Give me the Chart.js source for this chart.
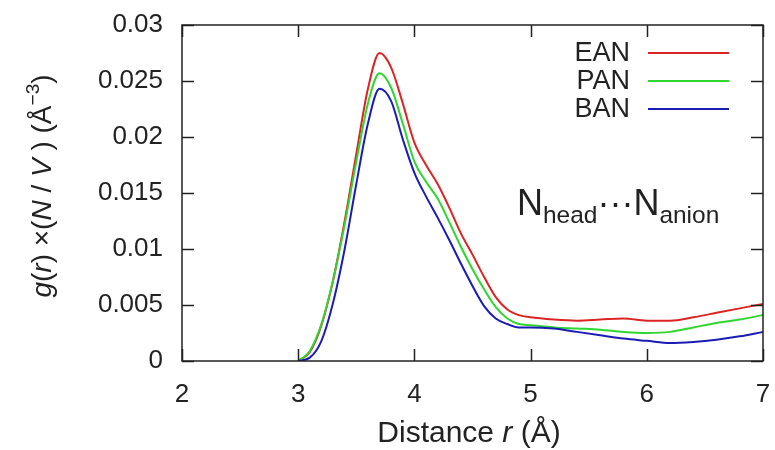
<!DOCTYPE html>
<html>
<head>
<meta charset="utf-8">
<script src="https://cdn.jsdelivr.net/npm/chart.js@4.4.0/dist/chart.umd.min.js"></script>
<style>
  html, body { margin: 0; padding: 0; background: #fff; }
  #wrap { width: 775px; height: 450px; }
</style>
</head>
<body>
<div id="wrap"><canvas id="rdf" width="775" height="450"></canvas></div>
<script>
// distances r (Å) and g(r)*(N/V)
const rValues = [3.0, 3.1, 3.2, 3.3, 3.4, 3.5, 3.6, 3.7, 3.8, 3.9, 4.0, 4.1, 4.2, 4.3, 4.4, 4.5,
  4.6, 4.7, 4.8, 4.9, 5.0, 5.2, 5.4, 5.6, 5.8, 6.0, 6.2, 6.4, 6.6, 6.8, 7.0];
const eanValues = [0, 0.0008, 0.0032, 0.0072, 0.0125, 0.0185, 0.0243, 0.0275, 0.0262, 0.0230, 0.0195,
  0.0175, 0.0158, 0.0137, 0.0114, 0.0095, 0.0075, 0.0057, 0.0046, 0.0041, 0.0039, 0.0037, 0.0036,
  0.0037, 0.0038, 0.0036, 0.0036, 0.0039, 0.0043, 0.0047, 0.0051];
const panValues = [0, 0.0009, 0.0033, 0.0072, 0.0122, 0.0178, 0.0230, 0.0257, 0.0244, 0.0212, 0.0178,
  0.0160, 0.0145, 0.0124, 0.0102, 0.0082, 0.0064, 0.0048, 0.0038, 0.0033, 0.0032, 0.0030, 0.0029,
  0.0028, 0.0026, 0.0025, 0.0026, 0.0030, 0.0034, 0.0037, 0.0041];
const banValues = [0, 0.0003, 0.0018, 0.0052, 0.0100, 0.0158, 0.0212, 0.0243, 0.0232, 0.0198, 0.0168,
  0.0147, 0.0128, 0.0108, 0.0087, 0.0067, 0.0049, 0.0038, 0.0033, 0.0030, 0.0030, 0.0029, 0.0026,
  0.0023, 0.0020, 0.0018, 0.0016, 0.0017, 0.0019, 0.0022, 0.0026];
const seriesNames = ['EAN', 'PAN', 'BAN'];
const seriesColors = ['#dc2424', '#2fd62f', '#1c1cb4'];

const xTicks = [2, 3, 4, 5, 6, 7];
const yTicks = [0, 0.005, 0.01, 0.015, 0.02, 0.025, 0.03];

const FONT = '"Liberation Sans", Arial, sans-serif';

function pts(vals) {
  return rValues.map((r, i) => ({ x: r, y: vals[i] }));
}

// draw a line of text made of pieces (italic / superscript / subscript)
function richText(ctx, parts, x, y, size, align) {
  let total = 0;
  const sized = parts.map(p => {
    const s = p.sup || p.sub ? size * 0.68 : size;
    ctx.font = (p.italic ? 'italic ' : '') + s + 'px ' + FONT;
    const w = ctx.measureText(p.t).width;
    total += w;
    return { p, s, w };
  });
  let cx = align === 'center' ? x - total / 2 : (align === 'right' ? x - total : x);
  ctx.textAlign = 'left';
  ctx.textBaseline = 'alphabetic';
  sized.forEach(({ p, s, w }) => {
    ctx.font = (p.italic ? 'italic ' : '') + s + 'px ' + FONT;
    let dy = 0;
    if (p.sup) dy = -size * 0.42;
    if (p.sub) dy = size * 0.22;
    ctx.fillText(p.t, cx, y + dy);
    cx += w;
  });
}

const framePlugin = {
  id: 'frame',
  afterDraw(chart) {
    const { ctx, chartArea: { left, right, top, bottom }, scales: { x, y } } = chart;
    ctx.save();
    ctx.strokeStyle = '#222';
    ctx.lineWidth = 1.5;
    ctx.strokeRect(left, top, right - left, bottom - top);
    const tl = 12;
    ctx.beginPath();
    xTicks.forEach(v => {
      const px = Math.round(x.getPixelForValue(v)) + 0.5;
      ctx.moveTo(px, bottom); ctx.lineTo(px, bottom - tl);
      ctx.moveTo(px, top); ctx.lineTo(px, top + tl);
    });
    yTicks.forEach(v => {
      const py = Math.round(y.getPixelForValue(v)) + 0.5;
      ctx.moveTo(left, py); ctx.lineTo(left + tl, py);
      ctx.moveTo(right, py); ctx.lineTo(right - tl, py);
    });
    ctx.stroke();

    ctx.fillStyle = '#222';
    // legend
    const ly = [53, 81, 109];
    seriesNames.forEach((n, i) => {
      ctx.font = '27px ' + FONT;
      ctx.textAlign = 'right';
      ctx.textBaseline = 'middle';
      ctx.fillText(n, 630, ly[i] + 1);
      ctx.strokeStyle = seriesColors[i];
      ctx.lineWidth = 2;
      ctx.beginPath();
      ctx.moveTo(648, ly[i]); ctx.lineTo(729, ly[i]);
      ctx.stroke();
    });

    // label in the plot
    richText(ctx, [
      { t: 'N' }, { t: 'head', sub: true }, { t: '\u00B7\u00B7\u00B7' }, { t: 'N' }, { t: 'anion', sub: true }
    ], 517, 215, 36, 'left');

    // x title
    richText(ctx, [{ t: 'Distance ' }, { t: 'r', italic: true }, { t: ' (\u00C5)' }], 469, 442, 30, 'center');

    // y title
    ctx.translate(51, 186);
    ctx.rotate(-Math.PI / 2);
    richText(ctx, [
      { t: 'g', italic: true }, { t: '(' }, { t: 'r', italic: true }, { t: ') \u00D7(' },
      { t: 'N', italic: true }, { t: ' / ' }, { t: 'V', italic: true }, { t: ' ) (\u00C5' },
      { t: '\u22123', sup: true }, { t: ')' }
    ], 0, 0, 28, 'center');
    ctx.restore();
  }
};

new Chart(document.getElementById('rdf'), {
  type: 'line',
  data: {
    datasets: [
      { label: seriesNames[0], data: pts(eanValues), borderColor: seriesColors[0], order: 2 },
      { label: seriesNames[1], data: pts(panValues), borderColor: seriesColors[1], order: 1 },
      { label: seriesNames[2], data: pts(banValues), borderColor: seriesColors[2], order: 0 }
    ].map(d => Object.assign(d, { borderWidth: 2, pointRadius: 0, tension: 0.4, fill: false, cubicInterpolationMode: 'monotone' }))
  },
  options: {
    responsive: false,
    animation: false,
    layout: { padding: { top: 25, right: 12, left: 0, bottom: 0 } },
    plugins: { legend: { display: false }, tooltip: { enabled: false } },
    scales: {
      x: {
        type: 'linear', min: 2, max: 7,
        grid: { display: false, drawTicks: false },
        border: { display: false },
        afterBuildTicks: s => { s.ticks = xTicks.map(v => ({ value: v })); },
        afterFit: s => { s.height = 89; s.paddingLeft = 0; s.paddingRight = 0; },
        ticks: { color: '#222', font: { family: FONT, size: 26 }, padding: 18, maxRotation: 0 }
      },
      y: {
        type: 'linear', min: 0, max: 0.03,
        grid: { display: false, drawTicks: false },
        border: { display: false },
        afterBuildTicks: s => { s.ticks = yTicks.map(v => ({ value: v })); },
        afterFit: s => { s.width = 182; s.paddingTop = 0; s.paddingBottom = 0; },
        ticks: {
          color: '#222', font: { family: FONT, size: 26 }, padding: 19,
          callback: v => String(Number(v.toFixed(3)))
        }
      }
    }
  },
  plugins: [framePlugin]
});
</script>
</body>
</html>
